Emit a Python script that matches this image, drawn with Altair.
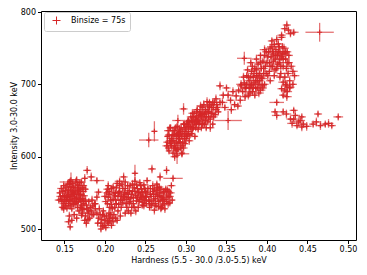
import altair as alt
import pandas as pd

# (hardness, intensity, hardness_err, intensity_err)
cluster_a = [
    (0.145, 545, .005, 5), (0.147, 538, .004, 5), (0.148, 552, .005, 6), (0.150, 546, .004, 5),
    (0.151, 532, .005, 5), (0.152, 558, .004, 6), (0.153, 541, .005, 5), (0.154, 550, .004, 5),
    (0.155, 535, .005, 6), (0.156, 562, .004, 5), (0.157, 545, .005, 5), (0.158, 553, .004, 6),
    (0.159, 528, .005, 5), (0.160, 540, .004, 5), (0.161, 558, .005, 6), (0.162, 548, .004, 5),
    (0.163, 535, .005, 5), (0.164, 565, .004, 6), (0.165, 544, .005, 5), (0.166, 553, .004, 5),
    (0.167, 538, .005, 6), (0.168, 560, .004, 5), (0.169, 547, .005, 5), (0.170, 555, .004, 6),
    (0.171, 565, .005, 5), (0.172, 542, .004, 5), (0.173, 552, .005, 6), (0.174, 560, .004, 5),
    (0.146, 556, .005, 5), (0.149, 528, .004, 6), (0.152, 544, .005, 5), (0.155, 555, .004, 5),
    (0.158, 538, .005, 6), (0.161, 550, .004, 5), (0.164, 542, .005, 5), (0.167, 548, .004, 6),
    (0.170, 540, .005, 5), (0.157, 566, .004, 5), (0.150, 540, .005, 6), (0.144, 550, .004, 5),
    (0.163, 557, .005, 5), (0.166, 530, .004, 6), (0.153, 529, .005, 5), (0.159, 546, .004, 5),
    (0.168, 552, .005, 6), (0.156, 565, .012, 4), (0.158, 568, .004, 10), (0.178, 581, .005, 6),
    (0.183, 572, .005, 6), (0.190, 567, .009, 5), (0.175, 570, .004, 6),
    (0.146, 541, .005, 5), (0.148, 546, .004, 6), (0.149, 535, .005, 5), (0.151, 553, .004, 5),
    (0.152, 538, .005, 6), (0.154, 544, .004, 5), (0.155, 548, .005, 5), (0.156, 540, .004, 6),
    (0.157, 532, .005, 5), (0.158, 558, .004, 5), (0.160, 552, .005, 6), (0.161, 534, .004, 5),
    (0.162, 542, .005, 5), (0.163, 550, .004, 6), (0.165, 537, .005, 5), (0.166, 561, .004, 5),
    (0.167, 555, .005, 6), (0.169, 541, .004, 5), (0.170, 548, .005, 5), (0.171, 533, .004, 6),
    (0.172, 557, .005, 5), (0.160, 563, .004, 5), (0.154, 562, .005, 6), (0.147, 530, .004, 5),
    (0.143, 540, .005, 5), (0.149, 560, .004, 6), (0.165, 568, .005, 5), (0.169, 564, .004, 5),
    (0.174, 546, .005, 6), (0.176, 555, .004, 5),
]

cluster_b = [
    (0.170, 530, .004, 5), (0.172, 522, .005, 6), (0.174, 535, .004, 5), (0.176, 518, .005, 5),
    (0.178, 528, .004, 6), (0.180, 538, .005, 5), (0.181, 515, .004, 5), (0.183, 525, .005, 6),
    (0.185, 532, .004, 5), (0.186, 520, .005, 5), (0.188, 528, .004, 6), (0.175, 512, .005, 5),
    (0.179, 522, .004, 5), (0.184, 540, .005, 6), (0.172, 528, .004, 5), (0.162, 520, .005, 5),
    (0.165, 515, .004, 6), (0.168, 525, .005, 5), (0.159, 512, .004, 5), (0.156, 518, .005, 6),
    (0.157, 503, .004, 5), (0.155, 510, .005, 5), (0.177, 508, .004, 6),
    (0.171, 519, .005, 5), (0.174, 527, .004, 5), (0.177, 533, .005, 6), (0.179, 513, .004, 5),
    (0.182, 530, .005, 5), (0.184, 520, .004, 6), (0.187, 535, .005, 5), (0.180, 525, .004, 5),
    (0.176, 540, .005, 6), (0.173, 538, .004, 5),
]

cluster_c = [
    (0.192, 515, .004, 5), (0.195, 508, .005, 6), (0.197, 520, .004, 5), (0.199, 505, .005, 5),
    (0.200, 512, .004, 6), (0.202, 518, .005, 5), (0.204, 508, .004, 5), (0.205, 515, .005, 6),
    (0.195, 500, .004, 5), (0.201, 502, .005, 5), (0.207, 520, .004, 6), (0.210, 510, .005, 5),
    (0.190, 522, .004, 5), (0.193, 528, .005, 6), (0.198, 525, .004, 5), (0.208, 505, .005, 5),
    (0.190, 544, .004, 6), (0.192, 551, .005, 5), (0.188, 535, .004, 5), (0.213, 515, .005, 5),
    (0.194, 520, .004, 5), (0.196, 513, .005, 6), (0.199, 518, .004, 5), (0.203, 510, .005, 5),
    (0.206, 512, .004, 6), (0.197, 504, .005, 5), (0.191, 508, .004, 5),
]

cluster_d = [
    (0.200, 545, .005, 5), (0.203, 535, .004, 6), (0.205, 552, .005, 5), (0.207, 540, .004, 5),
    (0.209, 528, .005, 6), (0.210, 558, .004, 5), (0.212, 546, .005, 5), (0.214, 535, .004, 6),
    (0.215, 563, .005, 5), (0.217, 550, .004, 5), (0.219, 540, .005, 6), (0.220, 530, .004, 5),
    (0.222, 556, .005, 5), (0.223, 545, .004, 6), (0.225, 565, .005, 5), (0.226, 535, .004, 5),
    (0.228, 550, .005, 6), (0.229, 525, .004, 5), (0.231, 560, .005, 5), (0.232, 543, .004, 6),
    (0.234, 552, .005, 5), (0.235, 535, .004, 5), (0.237, 566, .005, 6), (0.238, 546, .004, 5),
    (0.240, 556, .005, 5), (0.241, 530, .004, 6), (0.243, 541, .005, 5), (0.244, 560, .004, 5),
    (0.246, 550, .005, 6), (0.247, 537, .004, 5), (0.249, 556, .005, 5), (0.250, 545, .004, 6),
    (0.211, 520, .005, 5), (0.216, 525, .004, 5), (0.221, 540, .005, 6), (0.227, 541, .004, 5),
    (0.233, 530, .005, 5), (0.236, 557, .004, 6), (0.239, 539, .005, 5), (0.242, 551, .004, 5),
    (0.245, 543, .005, 6), (0.248, 532, .004, 5), (0.213, 550, .005, 5), (0.218, 560, .004, 5),
    (0.224, 550, .005, 6), (0.230, 536, .004, 5), (0.206, 530, .005, 5), (0.204, 560, .004, 6),
    (0.209, 515, .005, 5), (0.215, 512, .004, 5), (0.219, 518, .005, 6), (0.225, 522, .004, 5),
    (0.232, 522, .005, 5), (0.238, 525, .004, 6), (0.223, 572, .005, 6), (0.237, 577, .004, 12),
    (0.218, 566, .006, 5),
    (0.201, 538, .005, 5), (0.202, 550, .004, 6), (0.204, 544, .005, 5), (0.206, 548, .004, 5),
    (0.208, 534, .005, 6), (0.208, 556, .004, 5), (0.210, 541, .005, 5), (0.211, 550, .004, 6),
    (0.213, 540, .005, 5), (0.214, 557, .004, 5), (0.216, 545, .005, 6), (0.217, 534, .004, 5),
    (0.218, 552, .005, 5), (0.220, 547, .004, 6), (0.221, 562, .005, 5), (0.222, 536, .004, 5),
    (0.224, 543, .005, 6), (0.225, 556, .004, 5), (0.226, 548, .005, 5), (0.227, 530, .004, 6),
    (0.228, 560, .005, 5), (0.229, 544, .004, 5), (0.230, 553, .005, 6), (0.231, 538, .004, 5),
    (0.233, 548, .005, 5), (0.234, 562, .004, 6), (0.235, 543, .005, 5), (0.236, 530, .004, 5),
    (0.237, 552, .005, 6), (0.239, 561, .004, 5), (0.240, 544, .005, 5), (0.241, 550, .004, 6),
    (0.242, 538, .005, 5), (0.243, 564, .004, 5), (0.244, 547, .005, 6), (0.245, 555, .004, 5),
    (0.246, 533, .005, 5), (0.247, 545, .004, 6), (0.248, 561, .005, 5), (0.249, 540, .004, 5),
    (0.250, 552, .005, 6), (0.251, 535, .004, 5), (0.205, 522, .005, 5), (0.212, 530, .004, 6),
    (0.203, 555, .005, 5),
]

cluster_e = [
    (0.252, 550, .005, 5), (0.254, 540, .004, 6), (0.256, 556, .005, 5), (0.258, 535, .004, 5),
    (0.260, 548, .005, 6), (0.262, 542, .004, 5), (0.264, 553, .005, 5), (0.266, 538, .004, 6),
    (0.268, 546, .005, 5), (0.270, 530, .004, 5), (0.272, 550, .005, 6), (0.274, 541, .004, 5),
    (0.276, 547, .005, 5), (0.278, 535, .004, 6), (0.280, 545, .005, 5), (0.255, 530, .004, 5),
    (0.259, 560, .005, 6), (0.263, 532, .004, 5), (0.267, 558, .005, 5), (0.271, 540, .004, 6),
    (0.275, 555, .005, 5), (0.279, 552, .004, 5), (0.261, 526, .005, 6), (0.269, 528, .004, 5),
    (0.257, 545, .005, 5), (0.265, 545, .004, 6), (0.273, 535, .005, 5), (0.283, 540, .004, 5),
    (0.258, 583, .005, 6), (0.276, 581, .004, 6), (0.284, 570, .012, 5), (0.252, 567, .005, 5),
    (0.268, 572, .004, 6), (0.282, 560, .005, 5), (0.264, 562, .004, 5),
    (0.251, 544, .005, 5), (0.253, 556, .004, 6), (0.255, 538, .005, 5), (0.256, 548, .004, 5),
    (0.257, 533, .005, 6), (0.259, 552, .004, 5), (0.260, 540, .005, 5), (0.261, 555, .004, 6),
    (0.262, 535, .005, 5), (0.263, 548, .004, 5), (0.265, 557, .005, 6), (0.266, 531, .004, 5),
    (0.267, 550, .005, 5), (0.268, 539, .004, 6), (0.269, 555, .005, 5), (0.270, 544, .004, 5),
    (0.271, 533, .005, 6), (0.272, 541, .004, 5), (0.273, 552, .005, 5), (0.274, 528, .004, 6),
    (0.276, 538, .005, 5), (0.277, 554, .004, 5), (0.278, 544, .005, 6), (0.280, 536, .004, 5),
    (0.281, 550, .005, 5),
]

cluster_f = [
    (0.276, 615, .005, 6), (0.277, 628, .004, 5), (0.278, 636, .005, 6), (0.279, 608, .004, 5),
    (0.280, 622, .005, 6), (0.281, 640, .004, 5), (0.282, 615, .005, 6), (0.283, 630, .004, 5),
    (0.284, 605, .005, 6), (0.285, 622, .004, 5), (0.286, 636, .005, 6), (0.287, 612, .004, 5),
    (0.288, 628, .005, 6), (0.289, 642, .004, 5), (0.290, 618, .005, 6), (0.291, 633, .004, 5),
    (0.292, 625, .005, 6), (0.293, 612, .004, 5), (0.294, 640, .005, 6), (0.295, 628, .004, 5),
    (0.296, 620, .005, 6), (0.297, 645, .004, 5), (0.298, 632, .005, 6), (0.299, 618, .004, 5),
    (0.300, 638, .005, 6), (0.301, 628, .004, 5), (0.302, 648, .005, 6), (0.303, 635, .004, 5),
    (0.304, 622, .005, 6), (0.305, 642, .004, 5), (0.306, 655, .005, 6), (0.307, 632, .004, 5),
    (0.308, 648, .005, 6), (0.309, 640, .004, 5), (0.310, 660, .005, 6), (0.311, 628, .004, 5),
    (0.312, 652, .005, 6), (0.313, 645, .004, 5), (0.314, 665, .005, 6), (0.315, 638, .004, 5),
    (0.316, 657, .005, 6), (0.317, 648, .004, 5), (0.318, 670, .005, 6), (0.319, 640, .004, 5),
    (0.320, 660, .005, 6), (0.321, 652, .004, 5), (0.322, 672, .005, 6), (0.323, 645, .004, 5),
    (0.324, 665, .005, 6), (0.325, 655, .004, 5), (0.326, 676, .005, 6), (0.327, 648, .004, 5),
    (0.328, 662, .005, 6), (0.329, 668, .004, 5), (0.330, 652, .005, 6), (0.331, 672, .004, 5),
    (0.332, 660, .005, 6), (0.333, 645, .004, 5), (0.334, 668, .005, 6), (0.336, 658, .004, 5),
    (0.338, 672, .005, 6), (0.340, 662, .004, 5), (0.342, 675, .005, 6), (0.285, 612, .004, 5),
    (0.290, 630, .005, 6), (0.295, 615, .004, 5), (0.300, 625, .005, 6), (0.305, 630, .004, 5),
    (0.310, 645, .005, 6), (0.315, 650, .004, 5), (0.320, 645, .005, 6), (0.325, 640, .004, 5),
    (0.330, 640, .005, 6), (0.288, 608, .004, 5), (0.282, 625, .005, 6), (0.293, 635, .004, 5),
    (0.298, 645, .005, 6), (0.303, 650, .004, 5), (0.308, 660, .005, 6), (0.313, 655, .004, 5),
    (0.318, 658, .005, 6), (0.322, 660, .004, 5), (0.327, 670, .005, 6), (0.333, 675, .004, 5),
    (0.337, 680, .005, 6), (0.295, 605, .004, 5), (0.286, 600, .005, 6),
    (0.254, 623, .012, 10), (0.261, 635, .004, 14), (0.290, 650, .007, 8), (0.352, 650, .017, 13),
    (0.289, 602, .004, 12), (0.295, 604, .009, 5), (0.297, 666, .005, 8), (0.342, 698, .005, 6),
    (0.277, 620, .005, 6), (0.278, 612, .004, 5), (0.279, 630, .005, 6), (0.280, 640, .004, 5),
    (0.281, 618, .005, 6), (0.283, 622, .004, 5), (0.284, 636, .005, 6), (0.285, 630, .004, 5),
    (0.286, 615, .005, 6), (0.287, 640, .004, 5), (0.288, 620, .005, 6), (0.289, 632, .004, 5),
    (0.290, 610, .005, 6), (0.291, 625, .004, 5), (0.292, 638, .005, 6), (0.293, 620, .004, 5),
    (0.294, 630, .005, 6), (0.296, 635, .004, 5), (0.297, 612, .005, 6), (0.298, 625, .004, 5),
    (0.299, 640, .005, 6), (0.300, 632, .004, 5), (0.301, 645, .005, 6), (0.302, 630, .004, 5),
    (0.303, 642, .005, 6), (0.304, 648, .004, 5), (0.306, 640, .005, 6), (0.307, 650, .004, 5),
    (0.308, 638, .005, 6), (0.309, 655, .004, 5), (0.311, 648, .005, 6), (0.312, 640, .004, 5),
    (0.313, 662, .005, 6), (0.314, 650, .004, 5), (0.316, 645, .005, 6), (0.317, 662, .004, 5),
    (0.319, 655, .005, 6), (0.320, 668, .004, 5), (0.321, 645, .005, 6), (0.323, 658, .004, 5),
    (0.324, 650, .005, 6), (0.326, 662, .004, 5), (0.328, 655, .005, 6), (0.329, 675, .004, 5),
    (0.331, 660, .005, 6), (0.332, 668, .004, 5), (0.334, 655, .005, 6), (0.335, 675, .004, 5),
    (0.337, 665, .005, 6), (0.339, 668, .004, 5),
]

cluster_bridge = [
    (0.345, 675, .006, 6), (0.348, 668, .005, 5), (0.352, 685, .006, 6), (0.355, 678, .005, 5),
    (0.358, 690, .006, 6), (0.360, 672, .005, 5), (0.362, 684, .006, 6), (0.365, 692, .005, 5),
    (0.367, 678, .006, 6), (0.350, 695, .005, 5), (0.356, 665, .006, 6), (0.364, 670, .005, 5),
    (0.368, 700, .006, 6), (0.346, 685, .005, 5), (0.372, 736, .009, 9),
]

cluster_g = [
    (0.370, 690, .006, 6), (0.372, 702, .005, 5), (0.374, 695, .006, 6), (0.375, 712, .005, 5),
    (0.377, 685, .006, 6), (0.378, 705, .005, 5), (0.380, 698, .006, 6), (0.381, 718, .005, 5),
    (0.382, 690, .006, 6), (0.383, 710, .005, 5), (0.384, 702, .006, 6), (0.385, 722, .005, 5),
    (0.386, 695, .006, 6), (0.387, 712, .005, 5), (0.388, 705, .006, 6), (0.389, 728, .005, 5),
    (0.390, 700, .006, 6), (0.391, 715, .005, 5), (0.392, 692, .006, 6), (0.393, 722, .005, 5),
    (0.394, 708, .006, 6), (0.395, 732, .005, 5), (0.396, 715, .006, 6), (0.397, 700, .005, 5),
    (0.398, 725, .006, 6), (0.376, 720, .005, 5), (0.379, 688, .006, 6), (0.385, 685, .005, 5),
    (0.390, 688, .006, 6), (0.395, 695, .005, 5), (0.371, 710, .006, 6), (0.368, 698, .005, 5),
    (0.373, 683, .006, 6), (0.380, 730, .005, 5), (0.387, 735, .006, 6), (0.392, 740, .005, 5),
    (0.373, 695, .006, 6), (0.375, 700, .005, 5), (0.377, 710, .006, 6), (0.378, 695, .005, 5),
    (0.380, 710, .006, 6), (0.381, 700, .005, 5), (0.382, 725, .006, 6), (0.383, 695, .005, 5),
    (0.384, 715, .006, 6), (0.386, 705, .005, 5), (0.387, 720, .006, 6), (0.388, 695, .005, 5),
    (0.389, 712, .006, 6), (0.391, 705, .005, 5), (0.392, 730, .006, 6), (0.393, 710, .005, 5),
    (0.394, 698, .006, 6), (0.396, 722, .005, 5), (0.397, 740, .006, 6), (0.399, 715, .005, 5),
]

cluster_h = [
    (0.400, 730, .006, 6), (0.402, 745, .005, 5), (0.403, 718, .006, 6), (0.405, 738, .005, 5),
    (0.406, 752, .006, 6), (0.407, 725, .005, 5), (0.408, 742, .006, 6), (0.409, 712, .005, 5),
    (0.410, 735, .006, 6), (0.411, 748, .005, 5), (0.412, 722, .006, 6), (0.413, 740, .005, 5),
    (0.414, 756, .006, 6), (0.415, 730, .005, 5), (0.416, 745, .006, 6), (0.417, 715, .005, 5),
    (0.418, 738, .006, 6), (0.419, 752, .005, 5), (0.420, 725, .006, 6), (0.421, 742, .005, 5),
    (0.422, 710, .006, 6), (0.423, 735, .005, 5), (0.424, 722, .006, 6), (0.425, 745, .005, 5),
    (0.426, 715, .006, 6), (0.427, 730, .005, 5), (0.428, 705, .006, 6), (0.430, 725, .005, 5),
    (0.432, 718, .006, 6), (0.404, 705, .005, 5), (0.401, 712, .006, 6), (0.399, 745, .005, 5),
    (0.397, 748, .006, 6), (0.406, 760, .005, 5), (0.412, 762, .006, 6), (0.418, 765, .005, 5),
    (0.4245, 782, .005, 6), (0.4265, 775, .005, 5), (0.429, 770, .006, 5), (0.433, 772, .006, 5),
    (0.422, 777, .005, 6), (0.418, 768, .005, 5), (0.432, 700, .005, 5), (0.434, 712, .006, 6),
    (0.428, 695, .005, 5), (0.425, 690, .006, 6), (0.423, 700, .005, 5), (0.420, 703, .006, 6),
    (0.422, 692, .005, 5), (0.4245, 683, .006, 6), (0.420, 685, .005, 5), (0.4245, 698, .006, 6),
    (0.416, 710, .005, 5), (0.428, 696, .006, 6), (0.418, 694, .005, 5),
    (0.401, 738, .006, 6), (0.403, 730, .005, 5), (0.404, 750, .006, 6), (0.405, 725, .005, 5),
    (0.407, 745, .006, 6), (0.408, 732, .005, 5), (0.409, 755, .006, 6), (0.410, 720, .005, 5),
    (0.411, 740, .006, 6), (0.413, 728, .005, 5), (0.414, 745, .006, 6), (0.415, 752, .005, 5),
    (0.416, 735, .006, 6), (0.417, 725, .005, 5), (0.419, 742, .006, 6), (0.420, 735, .005, 5),
    (0.421, 750, .006, 6), (0.423, 745, .005, 5), (0.425, 730, .006, 6), (0.427, 740, .005, 5),
]

cluster_tail = [
    (0.412, 675, .009, 5), (0.410, 662, .005, 5), (0.412, 657, .006, 6), (0.420, 662, .005, 5),
    (0.424, 659, .006, 6), (0.433, 664, .005, 5), (0.435, 657, .006, 6), (0.429, 652, .005, 5),
    (0.431, 646, .006, 6), (0.437, 643, .005, 5), (0.441, 650, .006, 6), (0.443, 655, .005, 5),
    (0.439, 648, .006, 6), (0.445, 645, .005, 5), (0.449, 642, .006, 6), (0.457, 645, .005, 5),
    (0.461, 648, .006, 6), (0.463, 659, .005, 5), (0.466, 643, .006, 6), (0.472, 645, .005, 5),
    (0.476, 646, .006, 6), (0.480, 643, .005, 5), (0.488, 655, .006, 5), (0.433, 652, .005, 5),
    (0.443, 641, .006, 6), (0.465, 772, .0175, 13),
]

legend_label = ["Binsize = 75s"]

clusters = [cluster_a, cluster_b, cluster_c, cluster_d, cluster_e, cluster_f,
            cluster_bridge, cluster_g, cluster_h, cluster_tail]

rows = []
for cl in clusters:
    for h, i, he, ie in cl:
        rows.append({"h": h, "i": i, "h_lo": h - he, "h_hi": h + he,
                     "i_lo": i - ie, "i_hi": i + ie})
df = pd.DataFrame(rows)
leg_df = pd.DataFrame({"series": legend_label, "h": [0.3], "i": [600]})

RED = "#d62728"
PLUS = "M-1,0L1,0M0,-1L0,1"

xs = alt.Scale(domain=[0.121, 0.5099], nice=False, zero=False)
ys = alt.Scale(domain=[484.8, 801.4], nice=False, zero=False)

xaxis = alt.Axis(title="Hardness (5.5 - 30.0 /3.0-5.5) keV", values=[0.15, 0.2, 0.25, 0.3, 0.35, 0.4, 0.45, 0.5],
                 format=".2f", grid=False)
yaxis = alt.Axis(title="Intensity 3.0-30.0 keV", values=[500, 550, 600, 650, 700, 750, 800],
                 format="d", grid=False)

base = alt.Chart(df)

xerr = base.mark_rule(color=RED, opacity=0.65, strokeWidth=1.3).encode(
    x=alt.X("h_lo:Q", scale=xs, axis=xaxis), x2="h_hi:Q",
    y=alt.Y("i:Q", scale=ys, axis=yaxis))
yerr = base.mark_rule(color=RED, opacity=0.65, strokeWidth=1.3).encode(
    x=alt.X("h:Q", scale=xs), y=alt.Y("i_lo:Q", scale=ys), y2="i_hi:Q")
pts = base.mark_point(shape=PLUS, filled=False, color=RED, stroke=RED, size=25,
                      strokeWidth=1.2, opacity=0.9).encode(
    x=alt.X("h:Q", scale=xs), y=alt.Y("i:Q", scale=ys))
leg = alt.Chart(leg_df).mark_point(shape=PLUS, filled=False, opacity=0).encode(
    x=alt.X("h:Q", scale=xs), y=alt.Y("i:Q", scale=ys),
    stroke=alt.Stroke("series:N", scale=alt.Scale(range=[RED]),
                      legend=alt.Legend(title=None, orient="none", legendX=3, legendY=1,
                                        symbolType=PLUS, symbolSize=64, symbolStrokeWidth=1,
                                        symbolStrokeColor=RED, symbolOpacity=1,
                                        symbolOffset=4, labelOffset=10, labelFontSize=8,
                                        padding=4, strokeColor="#cccccc", fillColor="white",
                                        cornerRadius=2, labelFont="DejaVu Sans", labelColor="#000")))

chart = alt.layer(xerr, yerr, pts, leg).properties(
    width=315, height=229,
    autosize=alt.AutoSizeParams(type="none"),
    padding={"left": 33, "top": 3, "right": 3, "bottom": 27},
).configure_view(stroke="#000", strokeWidth=1).configure_axis(
    labelFont="DejaVu Sans", titleFont="DejaVu Sans", labelFontSize=8, titleFontSize=8,
    titleFontWeight="normal", labelColor="#000", titleColor="#000", tickColor="#000",
    domain=False, tickSize=3.5, labelPadding=2, titlePadding=3,
).configure_axisY(titlePadding=2)

chart.save("out.html", embed_options={"renderer": "svg", "actions": False})
